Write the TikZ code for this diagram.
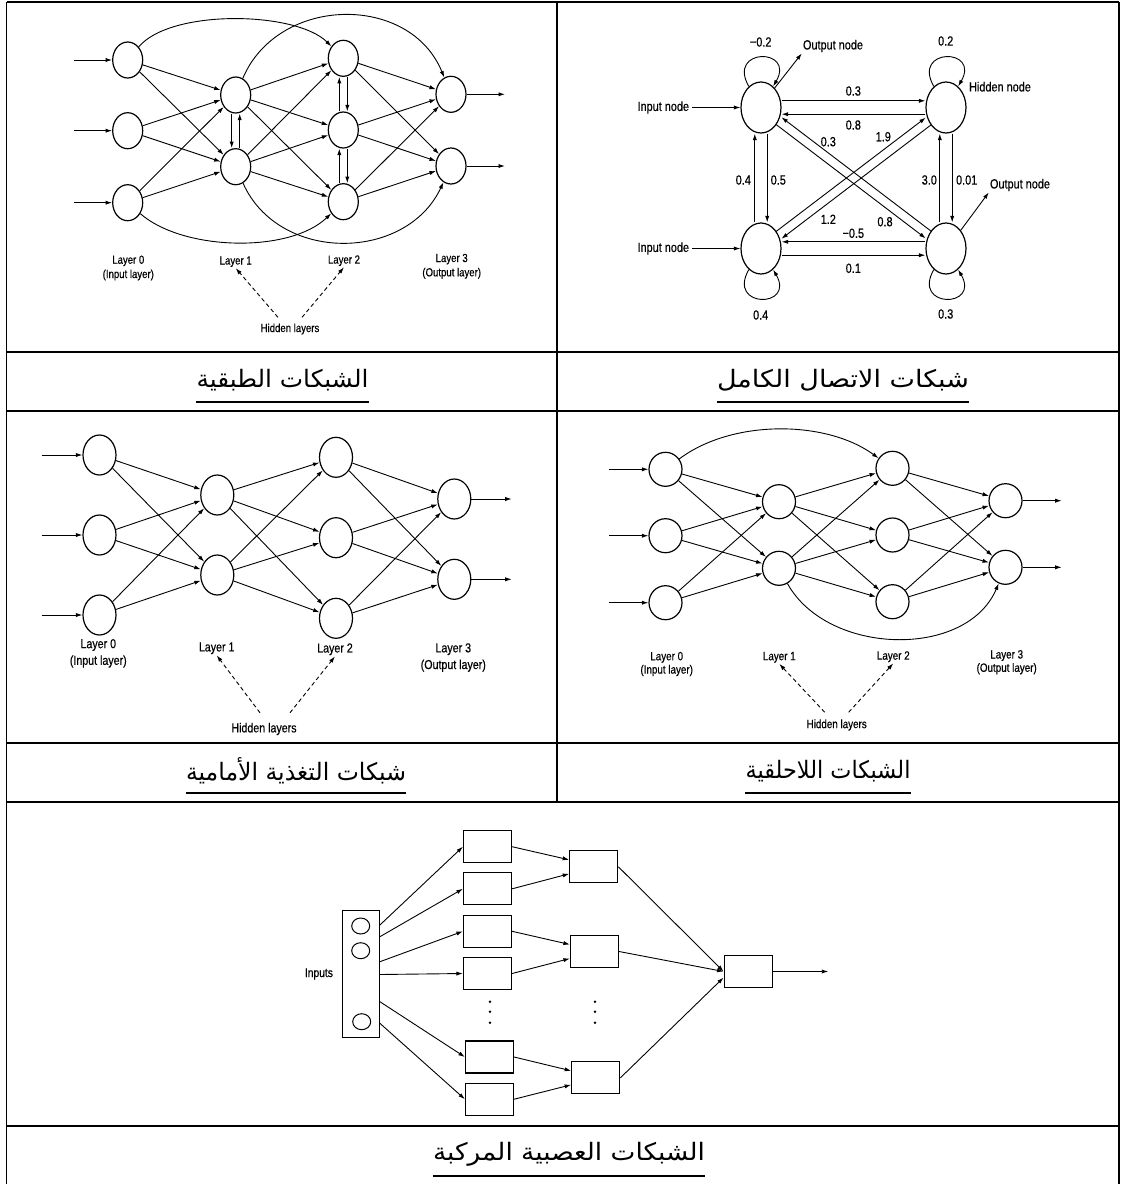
\documentclass[tikz,border=0pt]{standalone}
\usepackage{fontspec}
\usetikzlibrary{arrows.meta,shapes.geometric,calc}
\newfontfamily\lbl[FakeStretch=0.82,FakeBold=0.5]{Liberation Sans}
\newfontfamily\arabicfont[Script=Arabic]{DejaVu Sans}
\TeXXeTstate=1

\begin{document}
\begin{tikzpicture}[x=1pt,y=1pt,
  arr/.style={-{Latex[length=6.5pt,width=4.2pt]}, line width=0.9pt},
  dasharr/.style={-{Latex[length=6.5pt,width=4.2pt]}, line width=0.9pt, dash pattern=on 4pt off 3pt},
  rule/.style={line width=1.8pt},
  thinrule/.style={line width=1.2pt},
  neuron/.style={ellipse, draw, line width=1.2pt, inner sep=0pt},
  lab/.style 2 args={font=\lbl\fontsize{#1}{#2}\selectfont, align=center, inner sep=1pt},
  box/.style={draw, line width=1.2pt, rectangle, inner sep=0pt},
  caption/.style={font=\arabicfont\fontsize{24}{28}\selectfont, inner sep=0pt},
  uline/.style={line width=1.6pt}
]
\useasboundingbox (0,0) rectangle (1122,-1184);
\fill[white] (0,0) rectangle (1122,-1184);

% ---------- table frame ----------
\draw[rule] (6.5,-2) -- (1119,-2);
\draw[rule] (6.5,-2) -- (6.5,-1184);
\draw[rule] (1119,-2) -- (1119,-1184);
\draw[rule] (557,-2) -- (557,-802);
\draw[rule] (6.5,-352) -- (1119,-352);
\draw[thinrule] (6.5,-411) -- (1119,-411);
\draw[rule] (6.5,-410.5) -- (30,-410.5);
\draw[rule] (1096,-410.5) -- (1119,-410.5);
\draw[rule] (6.5,-743) -- (1119,-743);
\draw[thinrule] (6.5,-802) -- (1119,-802);
\draw[rule] (6.5,-1126) -- (1119,-1126);

% ---------- layered network (top left) ----------
\tikzset{na/.style={neuron, minimum width=30pt, minimum height=36pt}}
\foreach \n/\y in {1/60,2/130.7,3/202.7}{
  \node[na] (A0\n) at (127.7,-\y) {};
  \coordinate (Ain\n) at (74,-\y);
  \draw[arr] (Ain\n) -- (A0\n);
}
\foreach \n/\y in {1/95,2/166.7} \node[na] (A1\n) at (235.7,-\y) {};
\foreach \n/\y in {1/58.3,2/130,3/201.7} \node[na] (A2\n) at (343.3,-\y) {};
\foreach \n/\y in {1/94.3,2/166}{
  \node[na] (A3\n) at (451,-\y) {};
  \coordinate (Aout\n) at (505,-\y);
  \draw[arr] (A3\n) -- (Aout\n);
}
\foreach \i in {1,2,3}{\foreach \j in {1,2}{
  \draw[arr] (A0\i) -- (A1\j);
  \draw[arr] (A2\i) -- (A3\j);
}}
\foreach \i in {1,2}{\foreach \j in {1,2,3}{\draw[arr] (A1\i) -- (A2\j);}}
\draw[arr] ([xshift=-4pt]A11.south) -- ([xshift=-4pt]A12.north);
\draw[arr] ([xshift=4pt]A12.north) -- ([xshift=4pt]A11.south);
\draw[arr] ([xshift=-4pt]A22.north) -- ([xshift=-4pt]A21.south);
\draw[arr] ([xshift=4pt]A21.south) -- ([xshift=4pt]A22.north);
\draw[arr] ([xshift=-4pt]A23.north) -- ([xshift=-4pt]A22.south);
\draw[arr] ([xshift=4pt]A22.south) -- ([xshift=4pt]A23.north);
\draw[arr] (A01) to[out=50,in=135,looseness=0.66] (A21);
\draw[arr] (A11) to[out=67,in=112,looseness=1.15] (A31);
\draw[arr] (A03) to[out=-41,in=-136,looseness=0.77] (A23);
\draw[arr] (A12) to[out=-66,in=-115,looseness=1.12] (A32);
\node[lab={11.7}{14.3}] (AL0) at (128.3,-268) {Layer 0\\(Input layer)};
\node[lab={11.7}{14.3}] (AL1) at (235.7,-261.7) {Layer 1};
\node[lab={11.7}{14.3}] (AL2) at (344,-260.7) {Layer 2};
\node[lab={11.7}{14.3}] (AL3) at (451.7,-266.3) {Layer 3\\(Output layer)};
\node[lab={11.7}{14.3}] (AH) at (290,-329) {Hidden layers};
\draw[dasharr] ([xshift=-12pt,yshift=5pt]AH.north) -- (AL1.south);
\draw[dasharr] ([xshift=12pt,yshift=5pt]AH.north) -- (AL2.south);

% ---------- fully connected network (top right) ----------
\tikzset{nb/.style={neuron, minimum width=40pt, minimum height=51pt},
         wt/.style={font=\lbl\fontsize{13.3}{15}\selectfont, inner sep=1pt}}
\node[nb] (TL) at (761,-107.5) {};
\node[nb] (TR) at (946,-107.5) {};
\node[nb] (BL) at (761,-248.5) {};
\node[nb] (BR) at (946,-248.5) {};
\draw[arr] ([yshift=6.7pt]TL.east) -- ([yshift=6.7pt]TR.west);
\draw[arr] ([yshift=-6.7pt]TR.west) -- ([yshift=-6.7pt]TL.east);
\draw[arr] ([yshift=6.7pt]BR.west) -- ([yshift=6.7pt]BL.east);
\draw[arr] ([yshift=-6.7pt]BL.east) -- ([yshift=-6.7pt]BR.west);
\draw[arr] ([xshift=-6.2pt]BL.north) -- ([xshift=-6.2pt]TL.south);
\draw[arr] ([xshift=6.2pt]TL.south) -- ([xshift=6.2pt]BL.north);
\draw[arr] ([xshift=-6.2pt]BR.north) -- ([xshift=-6.2pt]TR.south);
\draw[arr] ([xshift=6.2pt]TR.south) -- ([xshift=6.2pt]BR.north);
\draw[arr] ([shift={(52.7:4.5pt)}]BR.142.7) -- ([shift={(52.7:4.5pt)}]TL.-37.3);
\draw[arr] ([shift={(-127.3:4.5pt)}]TL.-37.3) -- ([shift={(-127.3:4.5pt)}]BR.142.7);
\draw[arr] ([shift={(127.3:4.5pt)}]BL.37.3) -- ([shift={(127.3:4.5pt)}]TR.-142.7);
\draw[arr] ([shift={(-52.7:4.5pt)}]TR.-142.7) -- ([shift={(-52.7:4.5pt)}]BL.37.3);
% self loops
\draw[arr] (TL.120) .. controls +(120:45) and +(60:45) .. (TL.60);
\draw[arr] (TR.120) .. controls +(120:45) and +(60:45) .. (TR.60);
\draw[arr] (BL.-120) .. controls +(-120:45) and +(-60:45) .. (BL.-60);
\draw[arr] (BR.-120) .. controls +(-120:45) and +(-60:45) .. (BR.-60);
\node[wt] (w1) at (853.3,-91) {0.3};
\node[wt] (w2) at (853.3,-125) {0.8};
\node[wt] (w3) at (828.3,-141.7) {0.3};
\node[wt] (w4) at (883.3,-136.7) {1.9};
\node[wt] (w5) at (743.3,-180) {0.4};
\node[wt] (w6) at (778.3,-180) {0.5};
\node[wt] (w7) at (929.3,-180) {3.0};
\node[wt] (w8) at (966.7,-180) {0.01};
\node[wt] (w9) at (828.3,-219.3) {1.2};
\node[wt] (w10) at (885,-221.7) {0.8};
\node[wt] (w11) at (853.3,-233.3) {−0.5};
\node[wt] (w12) at (853.3,-268.3) {0.1};
\node[wt] (w13) at (760.7,-42) {−0.2};
\node[wt] (w14) at (945.7,-41) {0.2};
\node[wt] (w15) at (760.7,-315) {0.4};
\node[wt] (w16) at (945.7,-314) {0.3};
\node[wt, inner sep=3pt] (IN1) at (663.3,-107.5) {Input node};
\node[wt, inner sep=3pt] (IN2) at (663.3,-248.5) {Input node};
\draw[arr] (IN1.east) -- (TL.west);
\draw[arr] (IN2.east) -- (BL.west);
\node[wt] (OUT1) at (833,-46) {Output node};
\draw[arr] (TL.55) -- (OUT1.south west);
\node[wt] (HID) at (1000,-86.7) {Hidden node};
\node[wt] (OUT2) at (1020,-185) {Output node};
\draw[arr] (BR.51) -- (OUT2.south west);

% ---------- feedforward network (middle left) ----------
\tikzset{nc/.style={neuron, minimum width=33pt, minimum height=40pt}}
\foreach \n/\y in {1/455,2/535,3/615}{
  \node[nc] (C0\n) at (99.5,-\y) {};
  \coordinate (Cin\n) at (41.7,-\y);
  \draw[arr] (Cin\n) -- (C0\n);
}
\foreach \n/\y in {1/495,2/575} \node[nc] (C1\n) at (217.3,-\y) {};
\foreach \n/\y in {1/457.3,2/537.7,3/618.3} \node[nc] (C2\n) at (336,-\y) {};
\foreach \n/\y in {1/499,2/579.3}{
  \node[nc] (C3\n) at (454.3,-\y) {};
  \coordinate (Cout\n) at (511.7,-\y);
  \draw[arr] (C3\n) -- (Cout\n);
}
\foreach \i in {1,2,3}{\foreach \j in {1,2}{
  \draw[arr] (C0\i) -- (C1\j);
  \draw[arr] (C2\i) -- (C3\j);
}}
\foreach \i in {1,2}{\foreach \j in {1,2,3}{\draw[arr] (C1\i) -- (C2\j);}}
\node[lab={13}{16.7}] (CL0) at (98.3,-653.3) {Layer 0\\(Input layer)};
\node[lab={13}{16.7}] (CL1) at (216.7,-648.3) {Layer 1};
\node[lab={13}{16.7}] (CL2) at (335,-649.3) {Layer 2};
\node[lab={13}{16.7}] (CL3) at (453.3,-657.5) {Layer 3\\(Output layer)};
\node[lab={13}{16.7}] (CH) at (264,-729) {Hidden layers};
\draw[dasharr] ([xshift=-4pt,yshift=9pt]CH.north) -- (CL1.south);
\draw[dasharr] ([xshift=26pt,yshift=9pt]CH.north) -- (CL2.south);

% ---------- acyclic network with skip links (middle right) ----------
\tikzset{nd/.style={neuron, minimum width=33pt, minimum height=34pt}}
\foreach \n/\y in {1/469.3,2/535.7,3/602.7}{
  \node[nd] (D0\n) at (665.5,-\y) {};
  \coordinate (Din\n) at (609.3,-\y);
  \draw[arr] (Din\n) -- (D0\n);
}
\foreach \n/\y in {1/501.7,2/568.3} \node[nd] (D1\n) at (779,-\y) {};
\foreach \n/\y in {1/468.3,2/535,3/601.7} \node[nd] (D2\n) at (892.5,-\y) {};
\foreach \n/\y in {1/500.7,2/567.3}{
  \node[nd] (D3\n) at (1005.5,-\y) {};
  \coordinate (Dout\n) at (1061.7,-\y);
  \draw[arr] (D3\n) -- (Dout\n);
}
\foreach \i in {1,2,3}{\foreach \j in {1,2}{
  \draw[arr] (D0\i) -- (D1\j);
  \draw[arr] (D2\i) -- (D3\j);
}}
\foreach \i in {1,2}{\foreach \j in {1,2,3}{\draw[arr] (D1\i) -- (D2\j);}}
\draw[arr] (D01) to[out=37,in=144,looseness=0.84] (D21);
\draw[arr] (D12) to[out=-61,in=-113,looseness=1.0] (D32);
\node[lab={12}{13.3}] (DL0) at (666.7,-664) {Layer 0\\(Input layer)};
\node[lab={12}{13.3}] (DL1) at (779.3,-657.3) {Layer 1};
\node[lab={12}{13.3}] (DL2) at (893.3,-656.7) {Layer 2};
\node[lab={12}{13.3}] (DL3) at (1006.7,-662.2) {Layer 3\\(Output layer)};
\node[lab={12}{13.3}] (DH) at (836.7,-725) {Hidden layers};
\draw[dasharr] ([xshift=-12pt,yshift=6pt]DH.north) -- (DL1.south);
\draw[dasharr] ([xshift=12pt,yshift=6pt]DH.north) -- (DL2.south);

% ---------- composite (modular) network (bottom) ----------
\tikzset{bx/.style={box, minimum width=48pt, minimum height=32pt}}
\node[box, minimum width=36.6pt, minimum height=126.6pt] (IB) at (361,-974) {};
\node[neuron, line width=1pt, minimum width=18pt, minimum height=16pt] (IC1) at (360.7,-926) {};
\node[neuron, line width=1pt, minimum width=18pt, minimum height=16pt] (IC2) at (360.7,-950.7) {};
\node[neuron, line width=1pt, minimum width=18pt, minimum height=16pt] (IC3) at (361.7,-1021.7) {};
\node[lab={12.5}{14}, anchor=east] (INL) at ([xshift=-8pt]IB.west) {Inputs};
\foreach \n/\x/\y in {1/487.5/846.7,2/487.5/888.8,3/487.5/931.3,4/487.5/973.5,5/489.5/1057,6/489.5/1099.2}
  \node[bx] (P\n) at (\x,-\y) {};
\node[bx] (Q1) at (593.8,-866.8) {};
\node[bx] (Q2) at (594.5,-951.5) {};
\node[bx] (Q3) at (595.8,-1077.8) {};
\node[bx] (F) at (748.2,-971.5) {};
\draw[arr] ([yshift=49pt]IB.east) -- (P1.west);
\draw[arr] ([yshift=37.3pt]IB.east) -- (P2.west);
\draw[arr] ([yshift=12.3pt]IB.east) -- (P3.west);
\draw[arr] ([yshift=-0.5pt]IB.east) -- (P4.west);
\draw[arr] ([yshift=-27.7pt]IB.east) -- (P5.west);
\draw[arr] ([yshift=-49.3pt]IB.east) -- (P6.west);
\draw[arr] (P1.east) -- ([yshift=7pt]Q1.west);
\draw[arr] (P2.east) -- ([yshift=-7pt]Q1.west);
\draw[arr] (P3.east) -- ([yshift=7pt]Q2.west);
\draw[arr] (P4.east) -- ([yshift=-7pt]Q2.west);
\draw[arr] (P5.east) -- ([yshift=7pt]Q3.west);
\draw[arr] (P6.east) -- ([yshift=-7pt]Q3.west);
\draw[arr] (Q1.east) -- (F.west);
\draw[arr] (Q2.east) -- (F.west);
\draw[arr] (Q3.east) -- ([yshift=-6pt]F.west);
\coordinate (Fout) at (828.3,-971.5);
\draw[arr] (F.east) -- (Fout);
\foreach \y in {1001.7,1011.7,1022.7}{
  \fill (490,-\y) circle (1.4pt);
  \fill (595,-\y) circle (1.4pt);
}

% ---------- captions (each stretched to its printed width) ----------
\node[caption] (K1) at (282.5,-380) {\resizebox{172pt}{\height}{\beginR الشبكات الطبقية\endR}};
\node[caption] (K2) at (843,-380) {\resizebox{252pt}{\height}{\beginR شبكات الاتصال الكامل\endR}};
\node[caption] (K3) at (296,-771) {\resizebox{220pt}{\height}{\beginR شبكات التغذية الأمامية\endR}};
\node[caption] (K4) at (828,-771) {\resizebox{165pt}{\height}{\beginR الشبكات اللاحلقية\endR}};
\node[caption] (K5) at (569,-1154) {\resizebox{272pt}{\height}{\beginR الشبكات العصبية المركبة\endR}};
\coordinate (U1) at (0,-401.7);
\coordinate (U2) at (0,-793);
\coordinate (U3) at (0,-1176);
\draw[uline] (K1.west |- U1) -- (K1.east |- U1);
\draw[uline] (K2.west |- U1) -- (K2.east |- U1);
\draw[uline] (K3.west |- U2) -- (K3.east |- U2);
\draw[uline] (K4.west |- U2) -- (K4.east |- U2);
\draw[uline] (K5.west |- U3) -- (K5.east |- U3);
\end{tikzpicture}
\end{document}
